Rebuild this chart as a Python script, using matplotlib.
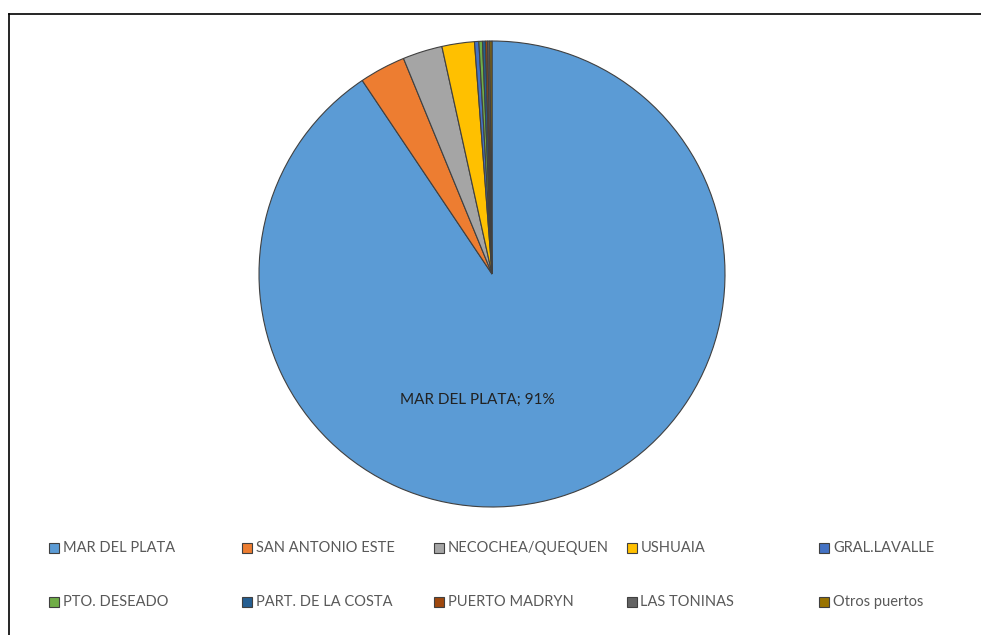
import matplotlib
matplotlib.use('Agg')
import matplotlib.pyplot as plt
from matplotlib.lines import Line2D
from matplotlib.patches import Rectangle

plt.rcParams['font.family'] = ['Lato', 'DejaVu Sans']

ports = ['MAR DEL PLATA', 'SAN ANTONIO ESTE', 'NECOCHEA/QUEQUEN', 'USHUAIA', 'GRAL.LAVALLE',
         'PTO. DESEADO', 'PART. DE LA COSTA', 'PUERTO MADRYN', 'LAS TONINAS', 'Otros puertos']
shares = [90.6, 3.2, 2.75, 2.25, 0.3, 0.25, 0.2, 0.15, 0.15, 0.15]
colors = ['#5B9BD5', '#ED7D31', '#A5A5A5', '#FFC000', '#4472C4',
          '#70AD47', '#255E91', '#9E480E', '#636363', '#997300']

W, H = 981, 635
fig = plt.figure(figsize=(W / 100, H / 100), dpi=100)
ax = fig.add_axes([0.0, 0.0, 1.0, 1.0])

ax.pie(shares, colors=colors, startangle=90, counterclock=False,
       radius=1.0, center=(0, 0),
       wedgeprops=dict(edgecolor='#404040', linewidth=0.8))

# pie placement: centre (492, 274) px, radius 233 px
r_px = 233.0
cx, cy = 492.0, 274.0
ax.set_xlim(-cx / r_px, (W - cx) / r_px)
ax.set_ylim(-(H - cy) / r_px, cy / r_px)
ax.set_aspect('auto')
ax.axis('off')

pct = int(shares[0] / sum(shares) * 100 + 0.5)
ax.text(-0.065, -0.54, '%s; %d%%' % (ports[0], pct), ha='center', va='center',
        fontsize=11, color='#222222')

# legend: 2 rows x 5 columns, evenly spaced like the Excel original
for i, (name, c) in enumerate(zip(ports, colors)):
    col, row = i % 5, i // 5
    x0 = 49 + col * 192.5
    y0 = 548 + row * 54
    fig.add_artist(Rectangle((x0 / W, 1 - (y0 + 5) / H), 10 / W, 10 / H,
                             facecolor=c, edgecolor='#404040', linewidth=0.8,
                             transform=fig.transFigure))
    fig.text((x0 + 14) / W, 1 - y0 / H, name, ha='left', va='center',
             fontsize=10.5, color='#595959')

# chart border (top and left visible)
fig.add_artist(Line2D([9 / W, 1.0], [1 - 14 / H, 1 - 14 / H], color='black', lw=1.2))
fig.add_artist(Line2D([9 / W, 9 / W], [0.0, 1 - 14 / H], color='black', lw=1.2))

plt.savefig('out.png', dpi=100)
